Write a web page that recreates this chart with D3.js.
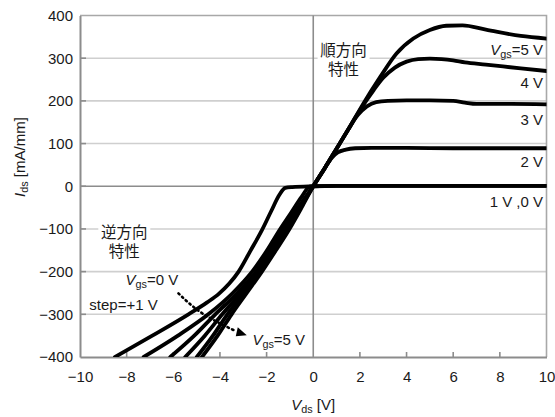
<!DOCTYPE html>
<html>
<head>
<meta charset="utf-8">
<script src="https://cdn.jsdelivr.net/npm/d3@7/dist/d3.min.js"></script>
<style>
  html, body { margin: 0; padding: 0; background: #fff; }
  svg { display: block; }
  text { font-family: "Liberation Sans", Arial, sans-serif; fill: #1a1a1a; }
  .cjk { font-family: "Liberation Sans", "Noto Sans CJK JP", "Noto Sans CJK SC", sans-serif; }
</style>
</head>
<body>
<svg id="chart" width="555" height="417"></svg>
<script>
// Output characteristics: Ids versus Vds, one curve per gate voltage (Vgs = 0 … 5 V)
const xTicks = [-10, -8, -6, -4, -2, 0, 2, 4, 6, 8, 10];
const yTicks = [-400, -300, -200, -100, 0, 100, 200, 300, 400];

// [Vds (V), Ids (mA/mm)]
const curve0V = [[-8.5,-400],[-6.9,-350],[-5.35,-300],[-4.55,-272],[-4.05,-252],[-3.6,-228],[-3.2,-200],[-2.7,-152],[-2.2,-103],[-1.8,-58],[-1.45,-20],[-1.2,-4],[-0.9,-2],[0,0],[1,1],[3,1],[5,1],[7,1],[10,1]];
const curve1V = [[-7.27,-400],[-5.8,-350],[-4.5,-300],[-3.45,-250],[-2.62,-200],[-1.98,-150],[-1.45,-103],[-0.95,-62],[-0.5,-25],[-0.15,-1],[0,0],[1,1],[3,1],[5,1],[7,1],[10,1]];
const curve2V = [[-6.13,-400],[-5.1,-350],[-4.2,-300],[-3.25,-250],[-2.45,-200],[-1.85,-150],[-1.28,-100],[-0.65,-50],[0,0],[0.5,43],[0.8,67],[1.05,79],[1.4,86],[1.8,89],[2.5,90],[4,90],[6,89],[8,89],[10,89]];
const curve3V = [[-5.49,-400],[-4.65,-350],[-3.9,-300],[-3.1,-250],[-2.35,-200],[-1.75,-150],[-1.18,-100],[-0.6,-50],[0,0],[0.5,43],[1,88],[1.5,133],[1.9,166],[2.3,187],[2.7,197],[3.2,200],[4,201],[5,201],[6,200],[6.5,196],[7,193],[8.5,193],[10,192]];
const curve4V = [[-4.99,-400],[-4.3,-350],[-3.68,-300],[-2.95,-250],[-2.28,-200],[-1.68,-150],[-1.1,-100],[-0.55,-50],[0,0],[0.5,43],[1,88],[1.5,133],[2,178],[2.6,226],[3.0,254],[3.5,278],[4.0,292],[4.5,298],[5.0,299],[5.5,298],[6.0,295],[6.5,290],[7.4,285],[8.9,276],[10,270]];
const curve5V = [[-4.77,-400],[-4.1,-350],[-3.5,-300],[-2.85,-250],[-2.2,-200],[-1.6,-150],[-1.02,-100],[-0.5,-50],[0,0],[0.5,43],[1,88],[1.5,133],[2.14,193],[2.86,255],[3.57,311],[4.29,346],[5,366],[5.7,376],[6.4,377],[7.4,367],[8.9,352],[10,346]];
const curves = [curve0V, curve1V, curve2V, curve3V, curve4V, curve5V];

// Right-hand curve labels: [Ids position, text]
const rightLabels = [[307, "=5 V"], [230, "4 V"], [143.5, "3 V"], [45, "2 V"], [-47.5, "1 V ,0 V"]];

const svg = d3.select("#chart");
const plotLeft = 80, plotRight = 546.5, plotTop = 15.5, plotBottom = 357;

const x = d3.scaleLinear().domain([-10, 10]).range([plotLeft, plotRight]);
const y = d3.scaleLinear().domain([-400, 400]).range([plotBottom, plotTop]);

svg.append("defs").append("clipPath").attr("id", "plotClip")
  .append("rect").attr("x", plotLeft).attr("y", plotTop)
  .attr("width", plotRight - plotLeft).attr("height", plotBottom - plotTop);

// horizontal grid
svg.append("g").selectAll("line")
  .data(yTicks.filter(d => d !== 0 && d !== 400 && d !== -400))
  .join("line")
  .attr("x1", plotLeft).attr("x2", plotRight)
  .attr("y1", d => y(d)).attr("y2", d => y(d))
  .attr("stroke", "#cfcfcf").attr("stroke-width", 1.6);

// frame (top, right)
svg.append("path")
  .attr("d", `M${plotLeft},${y(400)}H${plotRight}V${y(-400)}`)
  .attr("fill", "none").attr("stroke", "#a8a8a8").attr("stroke-width", 1.6);

// zero lines
svg.append("line").attr("x1", plotLeft).attr("x2", plotRight).attr("y1", y(0)).attr("y2", y(0))
  .attr("stroke", "#8c8c8c").attr("stroke-width", 1.6);
svg.append("line").attr("x1", x(0)).attr("x2", x(0)).attr("y1", plotTop).attr("y2", plotBottom)
  .attr("stroke", "#8c8c8c").attr("stroke-width", 1.6);

// two-line CJK annotations on a white patch over the grid
function cjkLabel(cx, lines, yFirst) {
  const g = svg.append("g");
  g.append("rect")
    .attr("x", cx - 26).attr("y", yFirst - 15).attr("width", 52).attr("height", 38)
    .attr("fill", "#fff");
  const t = g.append("text").attr("class", "cjk")
    .attr("x", cx).attr("y", yFirst)
    .attr("text-anchor", "middle").attr("font-size", 15.5);
  lines.forEach((s, i) => {
    t.append("tspan").attr("x", cx).attr("dy", i === 0 ? 0 : 18.5).text(s);
  });
}
cjkLabel(x(1.3), ["順方向", "特性"], 56);
cjkLabel(x(-8.1), ["逆方向", "特性"], 238);

// axes
const xAxis = d3.axisBottom(x).tickValues(xTicks).tickSize(0).tickPadding(14);
const gx = svg.append("g").attr("transform", `translate(0,${plotBottom})`).call(xAxis);
gx.select(".domain").attr("stroke", "#8c8c8c").attr("stroke-width", 2);
gx.selectAll(".tick text").attr("font-size", 15).attr("fill", "#1a1a1a");
svg.append("g").selectAll("line").data(xTicks.filter(d => d > -10 && d < 10 && d !== 0))
  .join("line")
  .attr("x1", d => x(d)).attr("x2", d => x(d))
  .attr("y1", plotBottom).attr("y2", plotBottom - 5)
  .attr("stroke", "#8c8c8c").attr("stroke-width", 1.6);

const yAxis = d3.axisLeft(y).tickValues(yTicks).tickSize(0).tickPadding(7);
const gy = svg.append("g").attr("transform", `translate(${plotLeft},0)`).call(yAxis);
gy.select(".domain").attr("stroke", "#8c8c8c").attr("stroke-width", 2);
gy.selectAll(".tick text").attr("font-size", 15).attr("fill", "#1a1a1a");
svg.append("g").selectAll("line").data(yTicks.filter(d => d > -400 && d < 400))
  .join("line")
  .attr("x1", plotLeft).attr("x2", plotLeft + 6)
  .attr("y1", d => y(d)).attr("y2", d => y(d))
  .attr("stroke", "#8c8c8c").attr("stroke-width", 1.6);

// curves
const line = d3.line().x(d => x(d[0])).y(d => y(d[1])).curve(d3.curveMonotoneX);
svg.append("g").attr("clip-path", "url(#plotClip)")
  .selectAll("path").data(curves).join("path")
  .attr("d", line)
  .attr("fill", "none").attr("stroke", "#000").attr("stroke-width", 3.8)
  .attr("stroke-linejoin", "round").attr("stroke-linecap", "round");

// subscripted variable label, e.g. V_gs=5 V
function subLabel(sel, main, sub, rest, size) {
  sel.append("tspan").attr("font-style", "italic").text(main);
  sel.append("tspan").attr("font-size", size * 0.72).attr("dy", 3).text(sub);
  if (rest) sel.append("tspan").attr("dy", -3).text(rest);
}

// right-side curve labels
rightLabels.forEach(([v, t], i) => {
  const tx = svg.append("text").attr("x", 543).attr("y", y(v)).attr("text-anchor", "end").attr("font-size", 15);
  if (i === 0) subLabel(tx, "V", "gs", t, 15);
  else tx.text(t);
});

// reverse-region annotations
subLabel(svg.append("text").attr("x", x(-8.05)).attr("y", y(-232)).attr("font-size", 15), "V", "gs", "=0 V", 15);
svg.append("text").attr("x", x(-9.6)).attr("y", y(-290)).attr("font-size", 15).text("step=+1 V");
subLabel(svg.append("text").attr("x", x(-0.35)).attr("y", y(-372)).attr("text-anchor", "end").attr("font-size", 15), "V", "gs", "=5 V", 15);

// dotted arrow from Vgs=0 V toward Vgs=5 V
const arrowPts = [[-5.78, -251], [-4.75, -298], [-3.3, -340]];
const arrowLine = d3.line().x(d => x(d[0])).y(d => y(d[1])).curve(d3.curveNatural);
svg.append("path").attr("d", arrowLine(arrowPts))
  .attr("fill", "none").attr("stroke", "#000").attr("stroke-width", 2.6)
  .attr("stroke-dasharray", "1.5,3.5").attr("stroke-linecap", "round");
const tip = [x(-2.85), y(-349)];
svg.append("path")
  .attr("d", `M${tip[0]},${tip[1]} L${tip[0] - 9},${tip[1] - 8} L${tip[0] - 11},${tip[1] + 1} Z`)
  .attr("fill", "#000");

// axis titles
const xt = svg.append("text").attr("x", x(0)).attr("y", 410).attr("text-anchor", "middle").attr("font-size", 15);
subLabel(xt, "V", "ds", " [V]", 15);
const yt = svg.append("text").attr("transform", `translate(25,157) rotate(-90)`)
  .attr("text-anchor", "middle").attr("font-size", 15);
subLabel(yt, "I", "ds", " [mA/mm]", 15);
</script>
</body>
</html>
